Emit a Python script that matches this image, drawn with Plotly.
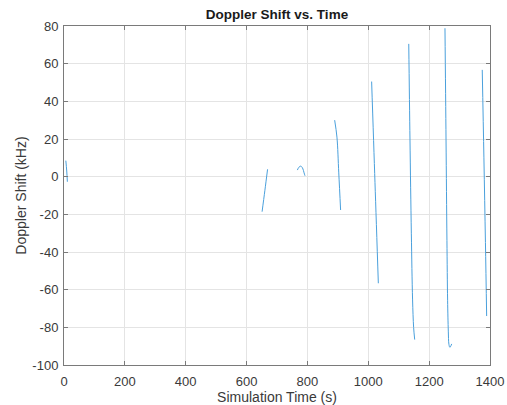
import plotly.graph_objects as go

# Doppler shift segments (time in s, shift in kHz)
seg1_t = [6, 9, 11]
seg1_f = [8.5, 3, -2.7]
seg2_t = [651, 660, 669]
seg2_f = [-18.6, -7.5, 3.9]
seg3_t = [767, 772, 778, 784, 789, 792]
seg3_f = [3.5, 5.0, 5.6, 4.6, 2.0, 0.5]
seg4_t = [889.5, 897, 903, 909]
seg4_f = [30, 21, 2, -17.7]
seg5_t = [1011, 1022, 1033]
seg5_f = [50.5, -3, -56.6]
seg6_t = [1133, 1137, 1141.5, 1145.5, 1149, 1152.5]
seg6_f = [70.5, 20, -30, -65, -80, -86.5]
seg7_t = [1252, 1255.5, 1258.5, 1260.7, 1263, 1265, 1268, 1271, 1274]
seg7_f = [78.8, 20, -33.8, -65.6, -82, -89, -90.6, -90, -88.8]
seg8_t = [1374.5, 1380, 1385, 1389]
seg8_f = [56.7, 10, -35, -74]

x_ticks = [0, 200, 400, 600, 800, 1000, 1200, 1400]
y_ticks = [-100, -80, -60, -40, -20, 0, 20, 40, 60, 80]

segments = [(seg1_t, seg1_f), (seg2_t, seg2_f), (seg3_t, seg3_f), (seg4_t, seg4_f),
            (seg5_t, seg5_f), (seg6_t, seg6_f), (seg7_t, seg7_f), (seg8_t, seg8_f)]

fig = go.Figure()
for t, f in segments:
    fig.add_trace(go.Scatter(x=t, y=f, mode="lines", line=dict(color="#4aa0dc", width=1, shape="spline"),
                             showlegend=False, hoverinfo="skip"))

FONT = "Liberation Sans, Arial"
axis_common = dict(
    showgrid=True, gridcolor="#e4e4e4", gridwidth=1,
    showline=True, linecolor="#7a7a7a", linewidth=1, mirror="ticks",
    ticks="inside", ticklen=4, tickcolor="#7a7a7a",
    zeroline=False, automargin=False,
    tickfont=dict(family=FONT, size=13, color="#3a3a3a"),
)

fig.update_xaxes(range=[0, 1400], tickvals=x_ticks, ticktext=[str(v) for v in x_ticks],
                 ticklabelstandoff=4, **axis_common,
                 title=dict(text="Simulation Time (s)", font=dict(family=FONT, size=14, color="#3a3a3a"), standoff=6))
fig.update_yaxes(range=[-100, 80], tickvals=y_ticks, ticktext=[str(v) for v in y_ticks],
                 ticklabelstandoff=2, **axis_common,
                 title=dict(text="Doppler Shift (kHz)", font=dict(family=FONT, size=14, color="#3a3a3a"), standoff=2))

fig.update_layout(
    width=507, height=405,
    margin=dict(l=64, r=17, t=26, b=40),
    plot_bgcolor="white", paper_bgcolor="white",
    title=dict(text="<b>Doppler Shift vs. Time</b>", x=0.5, xanchor="center", xref="paper",
               y=1 - 14 / 405, yanchor="middle", automargin=False,
               font=dict(family=FONT, size=13.5, color="#1a1a1a")),
)

fig.write_html("out.html")
